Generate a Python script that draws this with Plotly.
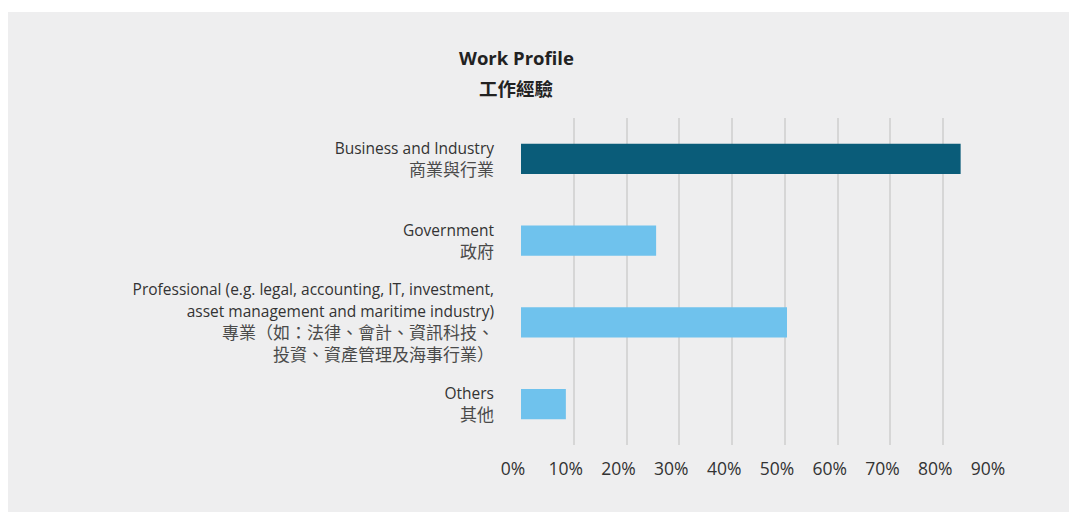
import plotly.graph_objects as go

# categories (English / Chinese) and share of respondents (%)
categories_en = [
    "Business and Industry",
    "Government",
    "Professional (e.g. legal, accounting, IT, investment,<br>asset management and maritime industry)",
    "Others",
]
categories_zh = [
    "商業與行業",
    "政府",
    "專業（如：法律、會計、資訊科技、<br>投資、資產管理及海事行業）",
    "其他",
]
shares = [83.3, 25.6, 50.4, 8.5]
bar_colors = ["#0a5c79", "#6fc2ed", "#6fc2ed", "#6fc2ed"]
tick_vals = [0, 10, 20, 30, 40, 50, 60, 70, 80, 90]
tick_text = [f"{v}%" for v in tick_vals]

W, H = 1069, 512
ML, MR, MT, MB = 521, 73, 118, 67
pw, ph = W - ML - MR, H - MT - MB


def px_x(x):
    return (x - ML) / pw


def px_y(y):
    return (H - MB - y) / ph


def en_line(s):
    return "<br>".join(f'<span style="font-size:15.5px">{part}</span>' for part in s.split("<br>"))


def zh_line(s):
    return "<br>".join(f'<span style="color:#4a4a4a">{part}</span>' for part in s.split("<br>"))


labels = [f"{en_line(en)}<br>{zh_line(zh)}" for en, zh in zip(categories_en, categories_zh)]

fig = go.Figure(
    go.Bar(
        x=shares,
        y=labels,
        orientation="h",
        marker=dict(color=bar_colors, line=dict(width=0)),
        hoverinfo="x+y",
    )
)

# grey backdrop, white strip along top and left
fig.add_shape(
    type="rect", xref="paper", yref="paper", layer="below",
    x0=px_x(8), x1=px_x(W + 2), y0=px_y(H + 2), y1=px_y(12),
    fillcolor="#eeeeef", line=dict(width=0),
)

fig.add_annotation(
    text="<b>Work Profile</b>", xref="paper", yref="paper",
    x=px_x(516), y=px_y(57), xanchor="center", yanchor="middle", showarrow=False,
    font=dict(size=18.5, color="#222222"),
)
fig.add_annotation(
    text="<b>工作經驗</b>", xref="paper", yref="paper",
    x=px_x(516), y=px_y(88), xanchor="center", yanchor="middle", showarrow=False,
    font=dict(size=18.5, color="#222222", family="Noto Sans CJK TC"),
)

fig.update_layout(
    width=W, height=H,
    margin=dict(l=ML, r=MR, t=MT, b=MB, pad=0),
    paper_bgcolor="white",
    plot_bgcolor="rgba(0,0,0,0)",
    font=dict(family="Open Sans, Noto Sans CJK TC", size=17, color="#333333"),
    showlegend=False,
    bargap=0.63,
)
fig.update_xaxes(
    range=[0, 90], tickvals=tick_vals, ticktext=tick_text,
    showgrid=True, gridcolor="#d6d6d6", gridwidth=1.5,
    zeroline=False, showline=False, ticks="",
    ticklabelstandoff=11, ticklabelshift=-8,
    tickfont=dict(size=17.5, color="#333333"),
    fixedrange=True,
)
fig.update_yaxes(
    autorange="reversed", showgrid=False, zeroline=False, showline=False,
    ticks="", ticklabelstandoff=26,
    tickfont=dict(size=17, color="#333333"),
    fixedrange=True,
)

# drop the page's default body margin so the figure fills the window
fig.write_html(
    "out.html",
    config={"displayModeBar": False},
    post_script="document.body.style.margin='0';document.body.style.overflow='hidden';",
)
